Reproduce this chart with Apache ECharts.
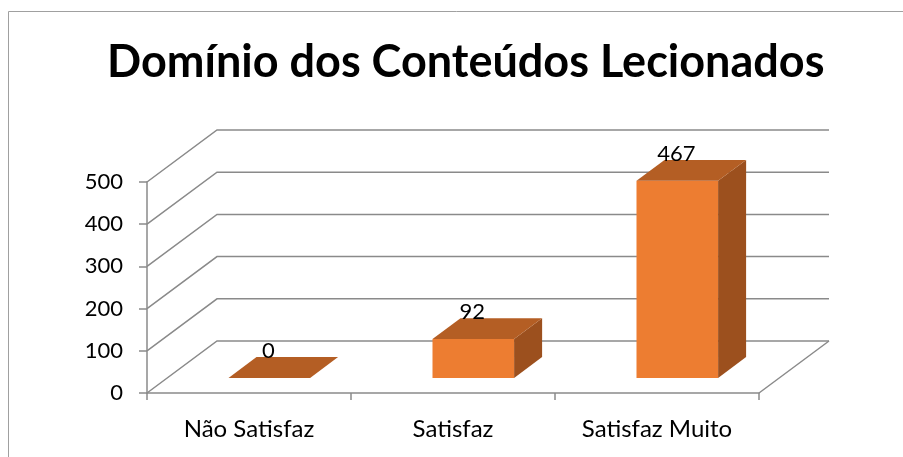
<!DOCTYPE html>
<html>
<head>
<meta charset="utf-8">
<script src="https://cdn.jsdelivr.net/npm/echarts@6/dist/echarts.min.js"></script>
<style>
  html, body { margin: 0; padding: 0; background: #fff; }
  #chart { width: 903px; height: 457px; }
</style>
</head>
<body>
<div id="chart"></div>
<script>
// dados do gráfico
const categories = ["Não Satisfaz", "Satisfaz", "Satisfaz Muito"];
const values = [0, 92, 467];
const yTicks = [0, 100, 200, 300, 400, 500];

// "profundidade" falsa do 3D (px)
const DX = 70;
const DY = -52;
const BAR_FRONT = 0.29; // fração da profundidade onde começa a barra
const BAR_BACK = 0.69;
const BAR_W = 0.4;

const LINE = "#8a8a8a";
const FONT = "Lato, 'Liberation Sans', sans-serif";

const chart = echarts.init(document.getElementById("chart"));

const option = {
  animation: false,
  title: {
    text: "Domínio dos Conteúdos Lecionados",
    left: 107,
    top: 40,
    padding: 0,
    textStyle: { fontSize: 45, fontWeight: "bold", color: "#000", fontFamily: FONT },
  },
  graphic: [
    {
      type: "rect",
      shape: { x: 8.5, y: 11.5, width: 1000, height: 1000 },
      style: { fill: "none", stroke: "#a0a0a0", lineWidth: 1 },
      silent: true,
    },
  ],
  grid: { left: 147, right: 144, top: 182, bottom: 64 },
  xAxis: {
    type: "category",
    data: categories,
    boundaryGap: true,
    axisLine: { lineStyle: { color: LINE, width: 1.5 } },
    axisTick: { show: true, length: 7, lineStyle: { color: LINE, width: 1.5 } },
    axisLabel: { color: "#000", fontSize: 24, fontFamily: FONT, margin: 24 },
    splitLine: { show: false },
  },
  yAxis: {
    type: "value",
    min: 0,
    max: 500,
    interval: 100,
    axisLine: { show: true, lineStyle: { color: LINE, width: 1.5 } },
    axisTick: { show: true, length: 8, lineStyle: { color: LINE, width: 1.5 } },
    axisLabel: { color: "#000", fontSize: 22, fontFamily: FONT, margin: 24 },
    splitLine: { show: false },
  },
  series: [
    {
      // grade: parede do fundo + diagonais
      type: "custom",
      clip: false,
      silent: true,
      z: 1,
      data: yTicks.map((v) => [0, v]),
      renderItem: function (params, api) {
        const cs = params.coordSys;
        const y = api.coord([0, api.value(1)])[1];
        const x0 = cs.x;
        const x1 = cs.x + cs.width;
        const children = [
          {
            type: "polyline",
            shape: { points: [[x0, y], [x0 + DX, y + DY], [x1 + DX, y + DY]] },
            style: { stroke: LINE, lineWidth: 1.5, fill: "none" },
          },
        ];
        if (api.value(1) === 0) {
          children.push({
            type: "line",
            shape: { x1: x1, y1: y, x2: x1 + DX, y2: y + DY },
            style: { stroke: LINE, lineWidth: 1.5 },
          });
        }
        return { type: "group", children: children };
      },
    },
    {
      // barras 3D
      type: "custom",
      clip: false,
      z: 2,
      data: values.map((v, i) => [i, v]),
      renderItem: function (params, api) {
        const base = api.coord([api.value(0), 0]);
        const top = api.coord([api.value(0), api.value(1)]);
        const bw = api.size([1, 0])[0] * BAR_W;
        const fx = base[0] + DX * BAR_FRONT;
        const fyB = base[1] + DY * BAR_FRONT;
        const fyT = top[1] + DY * BAR_FRONT;
        const ox = DX * (BAR_BACK - BAR_FRONT);
        const oy = DY * (BAR_BACK - BAR_FRONT);
        const l = fx - bw / 2;
        const r = fx + bw / 2;
        const children = [];
        if (fyB - fyT > 0.5) {
          children.push({
            type: "polygon",
            shape: { points: [[l, fyT], [r, fyT], [r, fyB], [l, fyB]] },
            style: { fill: "#ED7D31" },
          });
          children.push({
            type: "polygon",
            shape: { points: [[r, fyT], [r + ox, fyT + oy], [r + ox, fyB + oy], [r, fyB]] },
            style: { fill: "#9C501E" },
          });
        }
        children.push({
          type: "polygon",
          shape: { points: [[l, fyT], [r, fyT], [r + ox, fyT + oy], [l + ox, fyT + oy]] },
          style: { fill: "#B45E24" },
        });
        children.push({
          type: "text",
          style: {
            text: String(api.value(1)),
            x: fx - 1,
            y: fyT - 27,
            align: "center",
            verticalAlign: "middle",
            fontSize: 22,
            fontFamily: FONT,
            fill: "#000",
          },
        });
        return { type: "group", children: children };
      },
    },
  ],
};

chart.setOption(option);
</script>
</body>
</html>
